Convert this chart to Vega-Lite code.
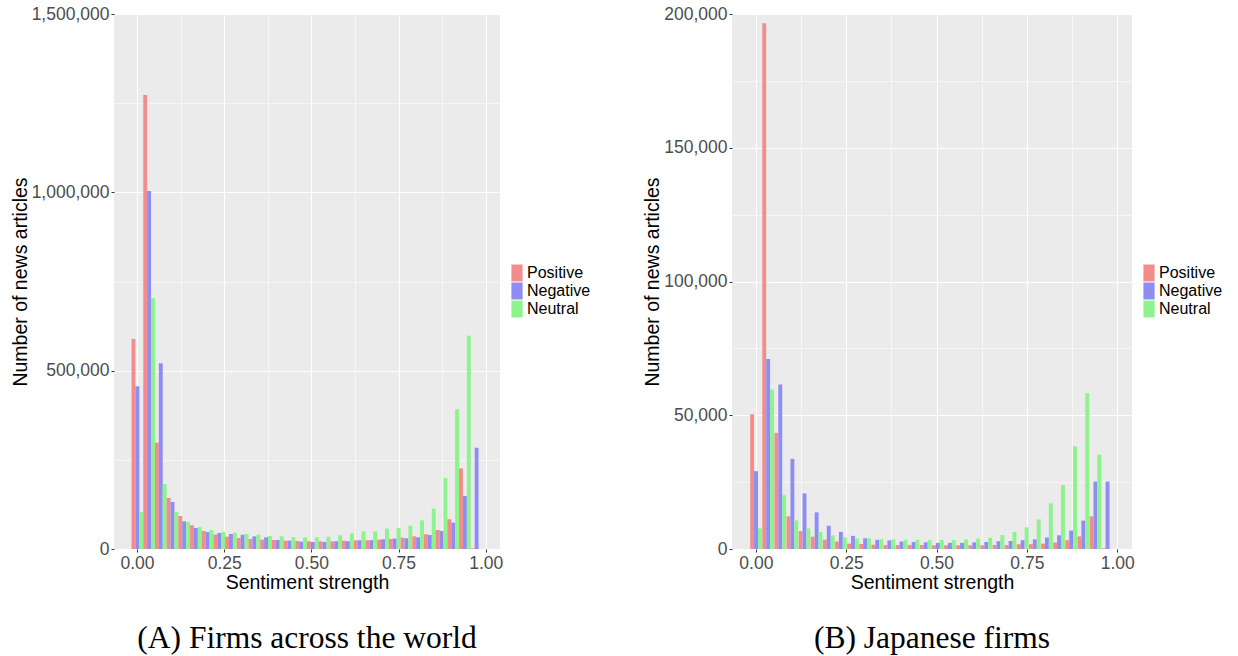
{
  "$schema": "https://vega.github.io/schema/vega-lite/v6.json",
  "padding": {"left": 10, "top": 5, "right": 5, "bottom": 5},
  "config": {
    "view": {"fill": "#EBEBEB", "stroke": null},
    "font": "Liberation Sans",
    "axis": {
      "labelFont": "Liberation Sans", "labelFontSize": 17.5, "labelColor": "#4D4D4D",
      "titleFont": "Liberation Sans", "titleFontSize": 19.5, "titleFontWeight": "normal", "titleColor": "#000000",
      "domain": false, "tickColor": "#333333", "tickSize": 3, "tickWidth": 1, "gridColor": "#FFFFFF", "labelPadding": 2
    },
    "legend": {"labelFont": "Liberation Sans", "labelFontSize": 16, "labelColor": "#000000"},
    "title": {"font": "Liberation Serif", "fontSize": 31.5, "fontWeight": "normal", "color": "#000000"}
  },
  "datasets": {
    "world": [
      {"bin": 0.001, "sentiment": "Positive", "count": 588800}, {"bin": 0.001, "sentiment": "Negative", "count": 456000}, {"bin": 0.001, "sentiment": "Neutral", "count": 103000},
      {"bin": 0.035, "sentiment": "Positive", "count": 1273000}, {"bin": 0.035, "sentiment": "Negative", "count": 1004000}, {"bin": 0.035, "sentiment": "Neutral", "count": 703700},
      {"bin": 0.068, "sentiment": "Positive", "count": 298000}, {"bin": 0.068, "sentiment": "Negative", "count": 520600}, {"bin": 0.068, "sentiment": "Neutral", "count": 182000},
      {"bin": 0.102, "sentiment": "Positive", "count": 143000}, {"bin": 0.102, "sentiment": "Negative", "count": 131800}, {"bin": 0.102, "sentiment": "Neutral", "count": 103700},
      {"bin": 0.135, "sentiment": "Positive", "count": 92500}, {"bin": 0.135, "sentiment": "Negative", "count": 77600}, {"bin": 0.135, "sentiment": "Neutral", "count": 75700},
      {"bin": 0.169, "sentiment": "Positive", "count": 66400}, {"bin": 0.169, "sentiment": "Negative", "count": 58900}, {"bin": 0.169, "sentiment": "Neutral", "count": 61700},
      {"bin": 0.202, "sentiment": "Positive", "count": 50500}, {"bin": 0.202, "sentiment": "Negative", "count": 47700}, {"bin": 0.202, "sentiment": "Neutral", "count": 53300},
      {"bin": 0.236, "sentiment": "Positive", "count": 40200}, {"bin": 0.236, "sentiment": "Negative", "count": 44900}, {"bin": 0.236, "sentiment": "Neutral", "count": 47700},
      {"bin": 0.269, "sentiment": "Positive", "count": 34600}, {"bin": 0.269, "sentiment": "Negative", "count": 42000}, {"bin": 0.269, "sentiment": "Neutral", "count": 45800},
      {"bin": 0.303, "sentiment": "Positive", "count": 30800}, {"bin": 0.303, "sentiment": "Negative", "count": 40200}, {"bin": 0.303, "sentiment": "Neutral", "count": 42000},
      {"bin": 0.336, "sentiment": "Positive", "count": 28000}, {"bin": 0.336, "sentiment": "Negative", "count": 35500}, {"bin": 0.336, "sentiment": "Neutral", "count": 40200},
      {"bin": 0.370, "sentiment": "Positive", "count": 26200}, {"bin": 0.370, "sentiment": "Negative", "count": 32700}, {"bin": 0.370, "sentiment": "Neutral", "count": 36400},
      {"bin": 0.403, "sentiment": "Positive", "count": 25200}, {"bin": 0.403, "sentiment": "Negative", "count": 25200}, {"bin": 0.403, "sentiment": "Neutral", "count": 35500},
      {"bin": 0.437, "sentiment": "Positive", "count": 23400}, {"bin": 0.437, "sentiment": "Negative", "count": 23400}, {"bin": 0.437, "sentiment": "Neutral", "count": 33600},
      {"bin": 0.471, "sentiment": "Positive", "count": 22400}, {"bin": 0.471, "sentiment": "Negative", "count": 20600}, {"bin": 0.471, "sentiment": "Neutral", "count": 32800},
      {"bin": 0.504, "sentiment": "Positive", "count": 21600}, {"bin": 0.504, "sentiment": "Negative", "count": 19700}, {"bin": 0.504, "sentiment": "Neutral", "count": 32800},
      {"bin": 0.538, "sentiment": "Positive", "count": 21600}, {"bin": 0.538, "sentiment": "Negative", "count": 19700}, {"bin": 0.538, "sentiment": "Neutral", "count": 34700},
      {"bin": 0.571, "sentiment": "Positive", "count": 21600}, {"bin": 0.571, "sentiment": "Negative", "count": 21600}, {"bin": 0.571, "sentiment": "Neutral", "count": 38400},
      {"bin": 0.605, "sentiment": "Positive", "count": 23400}, {"bin": 0.605, "sentiment": "Negative", "count": 21600}, {"bin": 0.605, "sentiment": "Neutral", "count": 44000},
      {"bin": 0.638, "sentiment": "Positive", "count": 24400}, {"bin": 0.638, "sentiment": "Negative", "count": 24400}, {"bin": 0.638, "sentiment": "Neutral", "count": 49600},
      {"bin": 0.672, "sentiment": "Positive", "count": 24400}, {"bin": 0.672, "sentiment": "Negative", "count": 24400}, {"bin": 0.672, "sentiment": "Neutral", "count": 49600},
      {"bin": 0.705, "sentiment": "Positive", "count": 26200}, {"bin": 0.705, "sentiment": "Negative", "count": 27200}, {"bin": 0.705, "sentiment": "Neutral", "count": 57100},
      {"bin": 0.739, "sentiment": "Positive", "count": 28100}, {"bin": 0.739, "sentiment": "Negative", "count": 29200}, {"bin": 0.739, "sentiment": "Neutral", "count": 59000},
      {"bin": 0.772, "sentiment": "Positive", "count": 31900}, {"bin": 0.772, "sentiment": "Negative", "count": 30000}, {"bin": 0.772, "sentiment": "Neutral", "count": 65600},
      {"bin": 0.806, "sentiment": "Positive", "count": 35600}, {"bin": 0.806, "sentiment": "Negative", "count": 32800}, {"bin": 0.806, "sentiment": "Neutral", "count": 80500},
      {"bin": 0.840, "sentiment": "Positive", "count": 41200}, {"bin": 0.840, "sentiment": "Negative", "count": 39300}, {"bin": 0.840, "sentiment": "Neutral", "count": 113000},
      {"bin": 0.873, "sentiment": "Positive", "count": 53300}, {"bin": 0.873, "sentiment": "Negative", "count": 50500}, {"bin": 0.873, "sentiment": "Neutral", "count": 199000},
      {"bin": 0.907, "sentiment": "Positive", "count": 83300}, {"bin": 0.907, "sentiment": "Negative", "count": 74000}, {"bin": 0.907, "sentiment": "Neutral", "count": 392000},
      {"bin": 0.940, "sentiment": "Positive", "count": 226000}, {"bin": 0.940, "sentiment": "Negative", "count": 148800}, {"bin": 0.940, "sentiment": "Neutral", "count": 597600},
      {"bin": 0.974, "sentiment": "Positive", "count": 2000}, {"bin": 0.974, "sentiment": "Negative", "count": 284000}, {"bin": 0.974, "sentiment": "Neutral", "count": 0}
    ],
    "japan": [
      {"bin": 0.001, "sentiment": "Positive", "count": 50400}, {"bin": 0.001, "sentiment": "Negative", "count": 29100}, {"bin": 0.001, "sentiment": "Neutral", "count": 7700},
      {"bin": 0.035, "sentiment": "Positive", "count": 196500}, {"bin": 0.035, "sentiment": "Negative", "count": 71000}, {"bin": 0.035, "sentiment": "Neutral", "count": 59600},
      {"bin": 0.068, "sentiment": "Positive", "count": 43400}, {"bin": 0.068, "sentiment": "Negative", "count": 61500}, {"bin": 0.068, "sentiment": "Neutral", "count": 20100},
      {"bin": 0.102, "sentiment": "Positive", "count": 12200}, {"bin": 0.102, "sentiment": "Negative", "count": 33700}, {"bin": 0.102, "sentiment": "Neutral", "count": 10700},
      {"bin": 0.135, "sentiment": "Positive", "count": 6700}, {"bin": 0.135, "sentiment": "Negative", "count": 20800}, {"bin": 0.135, "sentiment": "Neutral", "count": 7700},
      {"bin": 0.169, "sentiment": "Positive", "count": 4600}, {"bin": 0.169, "sentiment": "Negative", "count": 13700}, {"bin": 0.169, "sentiment": "Neutral", "count": 6400},
      {"bin": 0.202, "sentiment": "Positive", "count": 3500}, {"bin": 0.202, "sentiment": "Negative", "count": 8700}, {"bin": 0.202, "sentiment": "Neutral", "count": 5100},
      {"bin": 0.236, "sentiment": "Positive", "count": 2800}, {"bin": 0.236, "sentiment": "Negative", "count": 6400}, {"bin": 0.236, "sentiment": "Neutral", "count": 4400},
      {"bin": 0.269, "sentiment": "Positive", "count": 2000}, {"bin": 0.269, "sentiment": "Negative", "count": 4900}, {"bin": 0.269, "sentiment": "Neutral", "count": 4000},
      {"bin": 0.303, "sentiment": "Positive", "count": 1900}, {"bin": 0.303, "sentiment": "Negative", "count": 4000}, {"bin": 0.303, "sentiment": "Neutral", "count": 4000},
      {"bin": 0.336, "sentiment": "Positive", "count": 1600}, {"bin": 0.336, "sentiment": "Negative", "count": 3400}, {"bin": 0.336, "sentiment": "Neutral", "count": 3600},
      {"bin": 0.370, "sentiment": "Positive", "count": 1500}, {"bin": 0.370, "sentiment": "Negative", "count": 3200}, {"bin": 0.370, "sentiment": "Neutral", "count": 3600},
      {"bin": 0.403, "sentiment": "Positive", "count": 1500}, {"bin": 0.403, "sentiment": "Negative", "count": 2800}, {"bin": 0.403, "sentiment": "Neutral", "count": 3400},
      {"bin": 0.437, "sentiment": "Positive", "count": 1500}, {"bin": 0.437, "sentiment": "Negative", "count": 2600}, {"bin": 0.437, "sentiment": "Neutral", "count": 3400},
      {"bin": 0.471, "sentiment": "Positive", "count": 1500}, {"bin": 0.471, "sentiment": "Negative", "count": 2500}, {"bin": 0.471, "sentiment": "Neutral", "count": 3300},
      {"bin": 0.504, "sentiment": "Positive", "count": 1400}, {"bin": 0.504, "sentiment": "Negative", "count": 2300}, {"bin": 0.504, "sentiment": "Neutral", "count": 3400},
      {"bin": 0.538, "sentiment": "Positive", "count": 1400}, {"bin": 0.538, "sentiment": "Negative", "count": 2300}, {"bin": 0.538, "sentiment": "Neutral", "count": 3300},
      {"bin": 0.571, "sentiment": "Positive", "count": 1400}, {"bin": 0.571, "sentiment": "Negative", "count": 2300}, {"bin": 0.571, "sentiment": "Neutral", "count": 3600},
      {"bin": 0.605, "sentiment": "Positive", "count": 1400}, {"bin": 0.605, "sentiment": "Negative", "count": 2500}, {"bin": 0.605, "sentiment": "Neutral", "count": 3900},
      {"bin": 0.638, "sentiment": "Positive", "count": 1400}, {"bin": 0.638, "sentiment": "Negative", "count": 2600}, {"bin": 0.638, "sentiment": "Neutral", "count": 4200},
      {"bin": 0.672, "sentiment": "Positive", "count": 1500}, {"bin": 0.672, "sentiment": "Negative", "count": 2900}, {"bin": 0.672, "sentiment": "Neutral", "count": 5200},
      {"bin": 0.705, "sentiment": "Positive", "count": 1500}, {"bin": 0.705, "sentiment": "Negative", "count": 3000}, {"bin": 0.705, "sentiment": "Neutral", "count": 6400},
      {"bin": 0.739, "sentiment": "Positive", "count": 1800}, {"bin": 0.739, "sentiment": "Negative", "count": 3300}, {"bin": 0.739, "sentiment": "Neutral", "count": 8100},
      {"bin": 0.772, "sentiment": "Positive", "count": 1800}, {"bin": 0.772, "sentiment": "Negative", "count": 3600}, {"bin": 0.772, "sentiment": "Neutral", "count": 11100},
      {"bin": 0.806, "sentiment": "Positive", "count": 2000}, {"bin": 0.806, "sentiment": "Negative", "count": 4300}, {"bin": 0.806, "sentiment": "Neutral", "count": 17100},
      {"bin": 0.840, "sentiment": "Positive", "count": 2400}, {"bin": 0.840, "sentiment": "Negative", "count": 5100}, {"bin": 0.840, "sentiment": "Neutral", "count": 23900},
      {"bin": 0.873, "sentiment": "Positive", "count": 3300}, {"bin": 0.873, "sentiment": "Negative", "count": 6900}, {"bin": 0.873, "sentiment": "Neutral", "count": 38400},
      {"bin": 0.907, "sentiment": "Positive", "count": 4700}, {"bin": 0.907, "sentiment": "Negative", "count": 10600}, {"bin": 0.907, "sentiment": "Neutral", "count": 58300},
      {"bin": 0.940, "sentiment": "Positive", "count": 12200}, {"bin": 0.940, "sentiment": "Negative", "count": 25200}, {"bin": 0.940, "sentiment": "Neutral", "count": 35300},
      {"bin": 0.974, "sentiment": "Positive", "count": 300}, {"bin": 0.974, "sentiment": "Negative", "count": 25200}, {"bin": 0.974, "sentiment": "Neutral", "count": 0}
    ]
  },
  "hconcat": [
    {
      "data": {"name": "world"},
      "width": 386, "height": 535,
      "title": {"text": "(A) Firms across the world", "orient": "bottom", "anchor": "middle", "frame": "group", "offset": 31},
      "layer": [
        {
          "mark": {"type": "point", "opacity": 0},
          "encoding": {
            "x": {"field": "bin", "type": "quantitative",
              "scale": {"domain": [-0.066, 1.041], "nice": false, "zero": false},
              "axis": {"orient": "bottom", "title": "Sentiment strength", "titlePadding": 2,
                "values": [0, 0.125, 0.25, 0.375, 0.5, 0.625, 0.75, 0.875, 1],
                "labelExpr": "(datum.value * 4) % 1 == 0 ? format(datum.value, '.2f') : ''",
                "gridWidth": {"condition": {"test": "(datum.value * 4) % 1 == 0", "value": 1.1}, "value": 0.55},
                "tickOpacity": {"condition": {"test": "(datum.value * 4) % 1 == 0", "value": 1}, "value": 0}}
            }
          }
        },
        {
          "mark": {"type": "bar"},
          "encoding": {
            "x": {"field": "bin", "type": "ordinal", "axis": null,
              "scale": {"domain": [-0.032, 0.001, 0.035, 0.068, 0.102, 0.135, 0.169, 0.202, 0.236, 0.269, 0.303, 0.336, 0.370, 0.403, 0.437, 0.471, 0.504, 0.538, 0.571, 0.605, 0.638, 0.672, 0.705, 0.739, 0.772, 0.806, 0.840, 0.873, 0.907, 0.940, 0.974, 1.007],
                "paddingInner": 0, "paddingOuter": 0.5}},
            "xOffset": {"field": "sentiment", "type": "nominal", "sort": ["Positive", "Negative", "Neutral"], "scale": {"paddingInner": 0, "paddingOuter": 0}},
            "y": {"field": "count", "type": "quantitative",
              "scale": {"domain": [0, 1500000], "nice": false},
              "axis": {"title": "Number of news articles", "titlePadding": 1,
                "values": [0, 250000, 500000, 750000, 1000000, 1250000, 1500000],
                "labelExpr": "datum.value % 500000 == 0 ? format(datum.value, ',') : ''",
                "gridWidth": {"condition": {"test": "datum.value % 500000 == 0", "value": 1.1}, "value": 0.55},
                "tickOpacity": {"condition": {"test": "datum.value % 500000 == 0", "value": 1}, "value": 0}}
            },
            "color": {"field": "sentiment", "type": "nominal",
              "scale": {"domain": ["Positive", "Negative", "Neutral"], "range": ["#F38D8D", "#8D8DF3", "#8DF38D"]},
              "legend": {"title": null, "orient": "none", "legendX": 395, "legendY": 251, "padding": 0,
                "symbolType": "M-0.7,-1.06H0.7V1.06H-0.7Z", "symbolSize": 256, "symbolStrokeWidth": 0,
                "rowPadding": 0, "labelOffset": 2}
            }
          }
        }
      ],
      "resolve": {"scale": {"x": "independent"}}
    },
    {
      "data": {"name": "japan"},
      "width": 400, "height": 535,
      "title": {"text": "(B) Japanese firms", "orient": "bottom", "anchor": "middle", "frame": "group", "offset": 31},
      "layer": [
        {
          "mark": {"type": "point", "opacity": 0},
          "encoding": {
            "x": {"field": "bin", "type": "quantitative",
              "scale": {"domain": [-0.066, 1.041], "nice": false, "zero": false},
              "axis": {"orient": "bottom", "title": "Sentiment strength", "titlePadding": 2,
                "values": [0, 0.125, 0.25, 0.375, 0.5, 0.625, 0.75, 0.875, 1],
                "labelExpr": "(datum.value * 4) % 1 == 0 ? format(datum.value, '.2f') : ''",
                "gridWidth": {"condition": {"test": "(datum.value * 4) % 1 == 0", "value": 1.1}, "value": 0.55},
                "tickOpacity": {"condition": {"test": "(datum.value * 4) % 1 == 0", "value": 1}, "value": 0}}
            }
          }
        },
        {
          "mark": {"type": "bar"},
          "encoding": {
            "x": {"field": "bin", "type": "ordinal", "axis": null,
              "scale": {"domain": [-0.032, 0.001, 0.035, 0.068, 0.102, 0.135, 0.169, 0.202, 0.236, 0.269, 0.303, 0.336, 0.370, 0.403, 0.437, 0.471, 0.504, 0.538, 0.571, 0.605, 0.638, 0.672, 0.705, 0.739, 0.772, 0.806, 0.840, 0.873, 0.907, 0.940, 0.974, 1.007],
                "paddingInner": 0, "paddingOuter": 0.5}},
            "xOffset": {"field": "sentiment", "type": "nominal", "sort": ["Positive", "Negative", "Neutral"], "scale": {"paddingInner": 0, "paddingOuter": 0}},
            "y": {"field": "count", "type": "quantitative",
              "scale": {"domain": [0, 200000], "nice": false},
              "axis": {"title": "Number of news articles", "titlePadding": 1,
                "values": [0, 25000, 50000, 75000, 100000, 125000, 150000, 175000, 200000],
                "labelExpr": "datum.value % 50000 == 0 ? format(datum.value, ',') : ''",
                "gridWidth": {"condition": {"test": "datum.value % 50000 == 0", "value": 1.1}, "value": 0.55},
                "tickOpacity": {"condition": {"test": "datum.value % 50000 == 0", "value": 1}, "value": 0}}
            },
            "color": {"field": "sentiment", "type": "nominal",
              "scale": {"domain": ["Positive", "Negative", "Neutral"], "range": ["#F38D8D", "#8D8DF3", "#8DF38D"]},
              "legend": {"title": null, "orient": "none", "legendX": 409, "legendY": 251, "padding": 0,
                "symbolType": "M-0.7,-1.06H0.7V1.06H-0.7Z", "symbolSize": 256, "symbolStrokeWidth": 0,
                "rowPadding": 0, "labelOffset": 2}
            }
          }
        }
      ],
      "resolve": {"scale": {"x": "independent"}}
    }
  ],
  "spacing": 51,
  "resolve": {"scale": {"x": "independent", "y": "independent", "color": "independent"}, "legend": {"color": "independent"}}
}
